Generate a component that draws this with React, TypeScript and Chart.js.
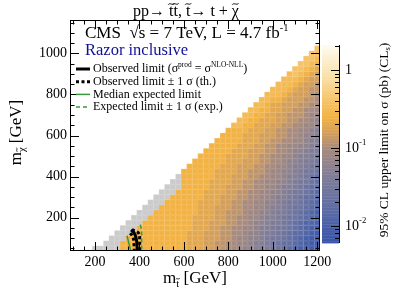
import { useEffect, useRef } from 'react';
import { Chart, registerables } from 'chart.js';
Chart.register(...registerables);

const FONT = '"Liberation Serif", "DejaVu Serif", serif';

// axis ticks
const X_TICKS = [200, 400, 600, 800, 1000, 1200];
const Y_TICKS = [200, 400, 600, 800, 1000];
const X_RANGE = [87.5, 1212.5];
const Y_RANGE = [37.5, 1162.5];
const CB_MAJOR = [0.01, 0.1, 1];
const CB_LABELS = [['10', '-2'], ['10', '-1'], ['1', '']];
const CB_LOG_RANGE = [-2.22, 0.32];

// grid of limit cells: rows from m_LSP = 50 upward (step 25), right-aligned at m_stop = 1200 (step 25)
// letter code: 'A' = log10(sigma) -2.2, each letter +0.1 ; '#' = grey cell
const M_STOP_LAST = 1200;
const M_LSP_FIRST = 50;
const STEP = 25;
const LIMIT_ROWS = [
  '#####QQQQQQQQQQQQPPPOONNMMLKKJIIHGFEDCCBB',
  '###QQQQQQQQQQQQPPPOONNMMLLKJJIHGFFEDCBB',
  '###QQQQQQQQQQQPPPOOONNMLLKKJIHHGFEDCBB',
  '###QQQQQQQQQQPPPOOONNMMLKKJIIHGFEEDCB',
  '###QQQQQQQQQQPPPOONNMMLLKJJIHHGFEDCB',
  '###QQQQQQQQQPPPOOONNMMLKKJIIHGFEDDC',
  '###QQQQQQQQPPPPOONNMMLLKJJIHGGFEDC',
  '###QQQQQQQQPPPOONNNMLLKKJIIHGFEDC',
  '###QQQQQQQPPPOOONNMMLLKJJIHGGFED',
  '###QQQQQQPPPPOONNMMLLKKJIHHGFED',
  '###QQQQQQPPPOOONNMMLLKJJIHGFFE',
  '###QQQQQPPPPOONNMMLLKKJIHHGFE',
  '###QQQQQPPPOOONNMMLLKJJIHGFF',
  '##QQQQQPPPPOONNMMLLKKJIHHGF',
  '#QQQQQQPPPOOONNMMLLKJJIHGF',
  'QQQQQQPPPPOONNNMLLKKJIHHG',
  'QQQQQQPPPOOONNMMLLKJJIHG',
  'QQQQQQPPPOOONNMMLKKJIIH',
  'QQQQQPPPPOONNMMLLKJJIH',
  'QQQQQPPPOOONNMMLKKJII',
  'QQQQQPPPOONNMMLLKKJI',
  'QQQQQPPPOONNMMLLKJJ',
  'QQQQPPPOOONNMMLKKJ',
  'QQQQPPPOONNMMLLKJ',
  'RRQQPPPOONNMMLLK',
  'RRQQPPPOONNMMLK',
  'RRQQPPOONNNMLL',
  'RRQQPPOONNMML',
  'RRQPPOOONNMM',
  'RRQQPOOONNM',
  'RRRQPOOONM',
  'RRRQPOONN',
  'RRRQPOON',
  'RRRQPOO',
  'RSRQPO',
  'SSRQP',
  'SSRQ',
  'SSR',
  'SS',
  'S',
];

// exclusion contours (m_stop, m_LSP)
const OBSERVED = [[362, 140], [372, 131], [381, 115], [386, 95], [389, 70], [390, 37.5]];
const OBS_PLUS = [[366, 142], [378, 136], [392, 129], [400, 117], [401, 90], [401, 37.5]];
const OBS_MINUS = [[358, 124], [367, 113], [374, 92], [377, 37.5]];
const EXPECTED = [[344, 112], [350, 86], [356, 60], [361, 37.5]];
const EXP_PLUS = [[404, 166], [409, 140], [410, 100], [410, 37.5]];

// palette (log10 sigma -> colour)
const PAL_LOG = [-2.22, -2.0, -1.7, -1.3, -1.0, -0.8, -0.6, -0.4, -0.1, 0.32];
const PAL_COL = ['#3a55a8', '#4860a7', '#6570a2', '#857f94', '#a88b7c', '#d49f5a', '#f2b244', '#f6c266', '#f9dfa4', '#fefbf0'];
const GREY = '#cbcbcb';
const GREEN = '#3c963c';

type Seg = { t: string; sup?: boolean; sub?: boolean; tilde?: boolean };

const LEGEND: { segs: Seg[]; color: string; width: number; dash: number[] }[] = [
  { segs: [{ t: 'Observed limit (σ' }, { t: 'prod', sup: true }, { t: ' = σ' }, { t: 'NLO-NLL', sup: true }, { t: ')' }], color: '#000', width: 3, dash: [] },
  { segs: [{ t: 'Observed limit ± 1 σ (th.)' }], color: '#000', width: 3, dash: [3, 2.5] },
  { segs: [{ t: 'Median expected limit' }], color: GREEN, width: 1.5, dash: [] },
  { segs: [{ t: 'Expected limit ± 1 σ (exp.)' }], color: GREEN, width: 1.5, dash: [4, 3] },
];

function hex(c: string) {
  return [parseInt(c.slice(1, 3), 16), parseInt(c.slice(3, 5), 16), parseInt(c.slice(5, 7), 16)];
}
function colorFor(v: number) {
  if (v <= PAL_LOG[0]) return PAL_COL[0];
  for (let i = 1; i < PAL_LOG.length; i++) {
    if (v <= PAL_LOG[i]) {
      const f = (v - PAL_LOG[i - 1]) / (PAL_LOG[i] - PAL_LOG[i - 1]);
      const a = hex(PAL_COL[i - 1]);
      const b = hex(PAL_COL[i]);
      const m = a.map((x, k) => Math.round(x + (b[k] - x) * f));
      return `rgb(${m[0]},${m[1]},${m[2]})`;
    }
  }
  return PAL_COL[PAL_COL.length - 1];
}
const codeToLog = (ch: string) => -2.2 + 0.1 * (ch.charCodeAt(0) - 65);

function drawRich(ctx: CanvasRenderingContext2D, segs: Seg[], x: number, y: number, size: number, align: 'left' | 'center', color = '#000') {
  ctx.textBaseline = 'middle';
  ctx.textAlign = 'left';
  ctx.fillStyle = color;
  ctx.strokeStyle = color;
  const parts = segs.map((s) => {
    const fs = s.sup || s.sub ? size * 0.62 : size;
    ctx.font = `${fs}px ${FONT}`;
    return { s, fs, w: ctx.measureText(s.t).width };
  });
  const total = parts.reduce((a, p) => a + p.w, 0);
  let cx = align === 'center' ? x - total / 2 : x;
  for (const p of parts) {
    ctx.font = `${p.fs}px ${FONT}`;
    const dy = p.s.sup ? -size * 0.36 : p.s.sub ? size * 0.3 : 0;
    ctx.fillText(p.s.t, cx, y + dy);
    if (p.s.tilde) {
      const tw = Math.max(p.w * 0.9, p.fs * 0.38);
      const mx = cx + p.w / 2;
      const ty = y + dy - p.fs * 0.5;
      const amp = p.fs * 0.07;
      ctx.beginPath();
      ctx.lineWidth = Math.max(0.8, p.fs * 0.06);
      ctx.moveTo(mx - tw / 2, ty + amp * 0.6);
      ctx.bezierCurveTo(mx - tw / 4, ty - amp * 1.6, mx + tw / 4, ty + amp * 1.6, mx + tw / 2, ty - amp * 0.6);
      ctx.stroke();
    }
    cx += p.w;
  }
}

const heatPlugin = {
  id: 'heat',
  beforeDatasetsDraw(chart: any) {
    const { ctx, chartArea: a, scales } = chart;
    const xs = scales.x;
    const ys = scales.y;
    ctx.save();
    ctx.beginPath();
    ctx.rect(a.left, a.top, a.right - a.left, a.bottom - a.top);
    ctx.clip();
    LIMIT_ROWS.forEach((row, r) => {
      const cy = M_LSP_FIRST + r * STEP;
      const L = row.length;
      for (let c = 0; c < L; c++) {
        const ch = row[c];
        const cx = M_STOP_LAST - (L - 1 - c) * STEP;
        const x1 = xs.getPixelForValue(cx - STEP / 2);
        const x2 = xs.getPixelForValue(cx + STEP / 2);
        const y1 = ys.getPixelForValue(cy + STEP / 2);
        const y2 = ys.getPixelForValue(cy - STEP / 2);
        ctx.fillStyle = ch === '#' ? GREY : colorFor(codeToLog(ch));
        ctx.fillRect(x1, y1, x2 - x1 + 0.3, y2 - y1 + 0.3);
        ctx.strokeStyle = 'rgba(255,255,255,0.16)';
        ctx.lineWidth = 0.6;
        ctx.strokeRect(x1 + 0.3, y1 + 0.3, x2 - x1 - 0.6, y2 - y1 - 0.6);
      }
    });
    ctx.restore();
  },
  afterDatasetsDraw(chart: any) {
    const { ctx, chartArea: a, scales } = chart;
    const xs = scales.x;
    const ys = scales.y;
    ctx.save();
    // frame
    ctx.strokeStyle = '#000';
    ctx.lineWidth = 1;
    ctx.strokeRect(a.left + 0.5, a.top + 0.5, a.right - a.left - 1, a.bottom - a.top - 1);
    // ticks
    ctx.beginPath();
    for (let v = 100; v <= X_RANGE[1]; v += 50) {
      const px = Math.round(xs.getPixelForValue(v)) + 0.5;
      const len = v % 200 === 0 ? 9 : 4.5;
      ctx.moveTo(px, a.bottom);
      ctx.lineTo(px, a.bottom - len);
      ctx.moveTo(px, a.top);
      ctx.lineTo(px, a.top + len);
    }
    for (let v = 50; v <= Y_RANGE[1]; v += 50) {
      const py = Math.round(ys.getPixelForValue(v)) + 0.5;
      const len = v % 200 === 0 ? 9 : 4.5;
      ctx.moveTo(a.left, py);
      ctx.lineTo(a.left + len, py);
      ctx.moveTo(a.right, py);
      ctx.lineTo(a.right - len, py);
    }
    ctx.stroke();

    // legend
    LEGEND.forEach((e, i) => {
      const y = 69 + i * 12.7;
      ctx.beginPath();
      ctx.strokeStyle = e.color;
      ctx.lineWidth = e.width;
      ctx.setLineDash(e.dash);
      ctx.moveTo(76, y);
      ctx.lineTo(90, y);
      ctx.stroke();
      ctx.setLineDash([]);
      drawRich(ctx, e.segs, 93, y, 12, 'left');
    });
    drawRich(ctx, [{ t: 'CMS  √s = 7 TeV, L = 4.7 fb' }, { t: '-1', sup: true }], 85, 34, 17, 'left');
    drawRich(ctx, [{ t: 'Razor inclusive' }], 85, 51, 16.5, 'left', '#10109a');

    // titles
    drawRich(
      ctx,
      [{ t: 'pp→ ' }, { t: 't', tilde: true }, { t: 't', tilde: true }, { t: ', ' }, { t: 't', tilde: true }, { t: '→ t + ' }, { t: 'χ', tilde: true }],
      186, 12, 16, 'center',
    );
    drawRich(ctx, [{ t: 'm' }, { t: 't', sub: true, tilde: true }, { t: ' [GeV]' }], (a.left + a.right) / 2, 279, 17, 'center');
    ctx.save();
    ctx.translate(17, (a.top + a.bottom) / 2 - 3);
    ctx.rotate(-Math.PI / 2);
    drawRich(ctx, [{ t: 'm' }, { t: 'χ', sub: true, tilde: true }, { t: ' [GeV]' }], 0, 0, 17, 'center');
    ctx.restore();

    // colour bar
    const cbL = a.right + 2;
    const cbR = a.right + 19;
    const cbT = a.top + 25;
    const cbB = a.bottom - 8;
    const [lmin, lmax] = CB_LOG_RANGE;
    const py = (v: number) => cbT + ((lmax - v) / (lmax - lmin)) * (cbB - cbT);
    for (let v = lmin; v < lmax; v += 0.02) {
      ctx.fillStyle = colorFor(v + 0.01);
      const y1 = py(Math.min(lmax, v + 0.02));
      const y2 = py(v);
      ctx.fillRect(cbL, y1, cbR - cbL, y2 - y1 + 0.4);
    }
    ctx.strokeStyle = '#000';
    ctx.lineWidth = 1;
    ctx.beginPath();
    ctx.moveTo(cbR + 0.5, cbT);
    ctx.lineTo(cbR + 0.5, cbB);
    for (let e = -3; e <= 0; e++) {
      for (let m = 1; m <= 9; m++) {
        const lv = e + Math.log10(m);
        if (lv < lmin || lv > lmax) continue;
        const y = Math.round(py(lv)) + 0.5;
        const len = m === 1 ? 8 : 4;
        ctx.moveTo(cbR, y);
        ctx.lineTo(cbR - len, y);
      }
    }
    ctx.stroke();
    CB_MAJOR.forEach((v, i) => {
      const [base, exp] = CB_LABELS[i];
      const segs: Seg[] = exp ? [{ t: base }, { t: exp, sup: true }] : [{ t: base }];
      drawRich(ctx, segs, cbR + 6, py(Math.log10(v)), 14, 'left');
    });
    ctx.save();
    ctx.translate(384, (cbT + cbB) / 2 - 4);
    ctx.rotate(-Math.PI / 2);
    drawRich(ctx, [{ t: '95% CL upper limit on σ (pb) (CL' }, { t: 's', sub: true }, { t: ')' }], 0, 0, 13.5, 'center');
    ctx.restore();
    ctx.restore();
  },
};

const line = (pts: number[][], color: string, width: number, dash: number[]) => ({
  data: pts.map(([x, y]) => ({ x, y })),
  showLine: true,
  borderColor: color,
  backgroundColor: color,
  borderWidth: width,
  borderDash: dash,
  pointRadius: 0,
  fill: false,
  tension: 0.3,
});

export default function App() {
  const ref = useRef<HTMLCanvasElement>(null);
  useEffect(() => {
    if (!ref.current) return;
    const chart = new Chart(ref.current, {
      type: 'scatter',
      data: {
        datasets: [
          line(EXPECTED, GREEN, 1.5, []),
          line(EXP_PLUS, GREEN, 1.5, [4, 3]),
          line(OBS_MINUS, '#000', 3, [3, 2.5]),
          line(OBS_PLUS, '#000', 3, [3, 2.5]),
          line(OBSERVED, '#000', 3, []),
        ] as any,
      },
      options: {
        animation: false,
        responsive: false,
        maintainAspectRatio: false,
        layout: { padding: { left: 0, right: 91, top: 20, bottom: 0 } },
        plugins: { legend: { display: false }, tooltip: { enabled: false }, title: { display: false } },
        scales: {
          x: {
            type: 'linear',
            min: X_RANGE[0],
            max: X_RANGE[1],
            grid: { display: false, drawTicks: false },
            border: { display: false },
            ticks: {
              font: { family: FONT, size: 14 },
              color: '#000',
              padding: 3,
              maxRotation: 0,
              autoSkip: false,
              callback: (v: any) => String(v),
            },
            afterBuildTicks: (s: any) => {
              s.ticks = X_TICKS.map((v) => ({ value: v }));
            },
            afterFit: (s: any) => {
              s.height = 46;
            },
          },
          y: {
            type: 'linear',
            min: Y_RANGE[0],
            max: Y_RANGE[1],
            grid: { display: false, drawTicks: false },
            border: { display: false },
            ticks: {
              font: { family: FONT, size: 14 },
              color: '#000',
              padding: 3,
              autoSkip: false,
              callback: (v: any) => String(v),
            },
            afterBuildTicks: (s: any) => {
              s.ticks = Y_TICKS.map((v) => ({ value: v }));
            },
            afterFit: (s: any) => {
              s.width = 70;
            },
          },
        },
      },
      plugins: [heatPlugin as any],
    });
    return () => chart.destroy();
  }, []);
  return (
    <div style={{ position: 'fixed', left: 0, top: 0, width: 411, height: 297, background: '#fff' }}>
      <canvas ref={ref} width={411} height={297} style={{ display: 'block', width: 411, height: 297 }} />
    </div>
  );
}
